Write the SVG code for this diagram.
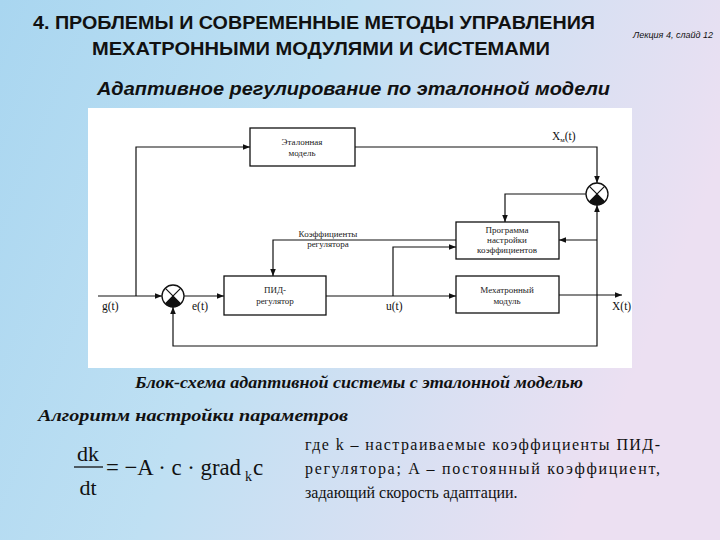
<svg xmlns="http://www.w3.org/2000/svg" width="720" height="540" viewBox="0 0 720 540">
<defs>
<linearGradient id="bg" x1="0" y1="0" x2="1" y2="0.3">
<stop offset="0" stop-color="#a9d6f0"/>
<stop offset="0.45" stop-color="#bfe0f3"/>
<stop offset="1" stop-color="#ece0f2"/>
</linearGradient>
<marker id="ar" viewBox="0 0 10 10" refX="10" refY="5" markerWidth="7" markerHeight="7" orient="auto" markerUnits="userSpaceOnUse"><path d="M0,1 L10,5 L0,9 z" fill="#111"/></marker>
<style>
.b{fill:#fff;stroke:#111;stroke-width:1.3}
.t{font-family:"Liberation Serif",serif;font-size:9px;fill:#222;text-anchor:middle}
.l{font-family:"Liberation Serif",serif;font-size:11.5px;fill:#111}
.c line,.c polyline{stroke:#111;stroke-width:1.2;fill:none}
.s{fill:#fff;stroke:#111;stroke-width:1.3}
</style>
</defs>
<rect width="720" height="540" fill="url(#bg)"/>
<text x="33" y="29" font-family="Liberation Sans,sans-serif" font-size="18" font-weight="bold" fill="#111" textLength="562" lengthAdjust="spacingAndGlyphs">4. ПРОБЛЕМЫ И СОВРЕМЕННЫЕ МЕТОДЫ УПРАВЛЕНИЯ</text>
<text x="92" y="55" font-family="Liberation Sans,sans-serif" font-size="18" font-weight="bold" fill="#111" textLength="458" lengthAdjust="spacingAndGlyphs">МЕХАТРОННЫМИ МОДУЛЯМИ И СИСТЕМАМИ</text>
<text x="713" y="38" font-family="Liberation Sans,sans-serif" font-size="9" font-style="italic" fill="#111" text-anchor="end">Лекция 4, слайд 12</text>
<text x="97" y="95" font-family="Liberation Sans,sans-serif" font-size="18" font-weight="bold" font-style="italic" fill="#111" textLength="513" lengthAdjust="spacingAndGlyphs">Адаптивное регулирование по эталонной модели</text>
<rect x="88" y="108" width="544" height="260" fill="#fff"/>
<g class="c">
<polyline points="98,296 162,296" marker-end="url(#ar)"/>
<polyline points="136,296 136,147 250,147" marker-end="url(#ar)"/>
<polyline points="355,147 597,147 597,183" marker-end="url(#ar)"/>
<polyline points="184,296 224,296" marker-end="url(#ar)"/>
<polyline points="326,296 456,296" marker-end="url(#ar)"/>
<polyline points="393,296 393,247 456,247" marker-end="url(#ar)"/>
<polyline points="559,295 622,295" marker-end="url(#ar)"/>
<polyline points="586,194 505,194 505,222" marker-end="url(#ar)"/>
<polyline points="456,240 273,240 273,276" marker-end="url(#ar)"/>
<polyline points="597,240 559,240" marker-end="url(#ar)"/>
<polyline points="597,295 597,346 173,346 173,307" marker-end="url(#ar)"/>
<polyline points="597,295 597,205" marker-end="url(#ar)"/>
</g>
<g id="sum1"><circle class="s" cx="173" cy="296" r="11"/><path d="M165.2,288.2L180.8,303.8M180.8,288.2L165.2,303.8" stroke="#111" stroke-width="1.2"/><path d="M165.2,303.8L173,296L180.8,303.8A11,11 0 0 1 165.2,303.8z" fill="#111"/></g>
<g id="sum2"><circle class="s" cx="597" cy="194" r="11"/><path d="M589.2,186.2L604.8,201.8M604.8,186.2L589.2,201.8" stroke="#111" stroke-width="1.2"/><path d="M589.2,201.8L597,194L604.8,201.8A11,11 0 0 1 589.2,201.8z" fill="#111"/></g>
<g id="model"><rect class="b" x="250" y="128" width="105" height="38"/><text class="t" x="302" y="145">Эталонная</text><text class="t" x="302" y="156">модель</text></g>
<g id="pid"><rect class="b" x="224" y="276" width="102" height="39"/><text class="t" x="275" y="293">ПИД-</text><text class="t" x="275" y="304">регулятор</text></g>
<g id="prog"><rect class="b" x="456" y="222" width="103" height="37"/><text class="t" x="507" y="233">Программа</text><text class="t" x="507" y="243">настройки</text><text class="t" x="507" y="253">коэффициентов</text></g>
<g id="mech"><rect class="b" x="456" y="276" width="103" height="37"/><text class="t" x="507" y="293">Мехатронный</text><text class="t" x="507" y="304">модуль</text></g>
<text class="t" x="328" y="237">Коэффициенты</text>
<text class="t" x="328" y="247">регулятора</text>
<text class="l" x="102" y="310">g(t)</text>
<text class="l" x="192" y="310">e(t)</text>
<text class="l" x="386" y="310">u(t)</text>
<text class="l" x="612" y="310">X(t)</text>
<text class="l" x="552" y="140">X<tspan font-size="7" dy="2">м</tspan><tspan dy="-2">(t)</tspan></text>
<text x="135" y="388" font-family="Liberation Serif,serif" font-size="16" font-weight="bold" font-style="italic" fill="#111" textLength="448" lengthAdjust="spacingAndGlyphs">Блок-схема адаптивной системы с эталонной моделью</text>
<text x="38" y="421" font-family="Liberation Serif,serif" font-size="17" font-weight="bold" font-style="italic" fill="#111" textLength="310" lengthAdjust="spacingAndGlyphs">Алгоритм настройки параметров</text>
<g font-family="Liberation Serif,serif" fill="#111">
<text x="88" y="461" font-size="22" text-anchor="middle">dk</text>
<line x1="74" y1="467" x2="103" y2="467" stroke="#111" stroke-width="1.3"/>
<text x="88" y="495" font-size="22" text-anchor="middle">dt</text>
<text x="106" y="475" font-size="23" textLength="135" lengthAdjust="spacingAndGlyphs">= −A · c · grad</text>
<text x="245" y="481" font-size="14">k</text>
<text x="253" y="475" font-size="23">c</text>
</g>
<g font-family="Liberation Serif,serif" font-size="16" fill="#111">
<text x="305" y="450" textLength="355" lengthAdjust="spacing">где k – настраиваемые коэффициенты ПИД-</text>
<text x="305" y="474" textLength="355" lengthAdjust="spacing">регулятора; A – постоянный коэффициент,</text>
<text x="305" y="498">задающий скорость адаптации.</text>
</g>
</svg>
